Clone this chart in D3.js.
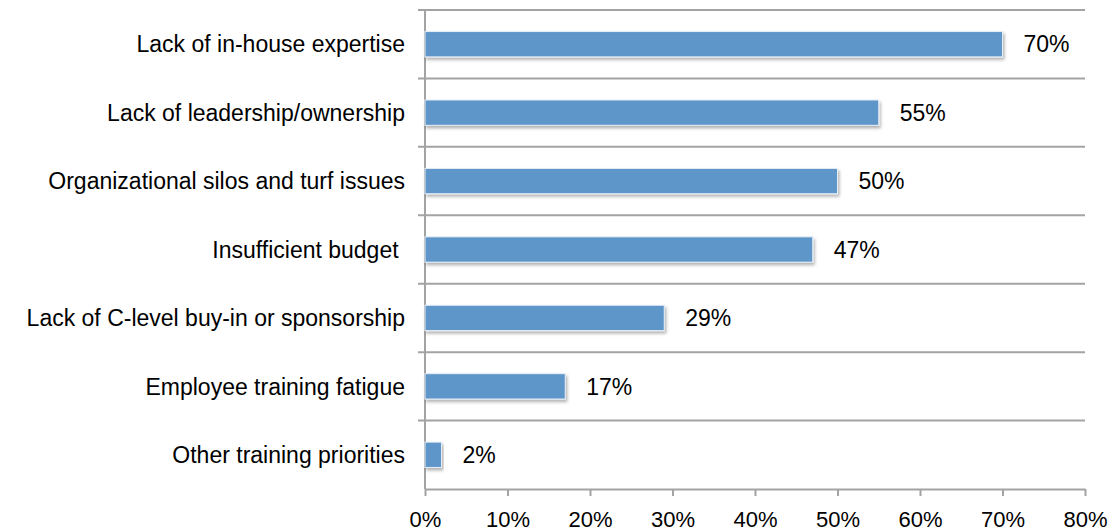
<!DOCTYPE html>
<html>
<head>
<meta charset="utf-8">
<script src="https://cdn.jsdelivr.net/npm/d3@7"></script>
<style>
  body { margin: 0; background: #fff; }
  svg { display: block; font-family: "Liberation Sans", Arial, sans-serif; }
</style>
</head>
<body>
<div id="chart"></div>
<script>
// données
const categories = [
  "Lack of in-house expertise",
  "Lack of leadership/ownership",
  "Organizational silos and turf issues",
  "Insufficient budget ",
  "Lack of C-level buy-in or sponsorship",
  "Employee training fatigue",
  "Other training priorities"
];
const values = [70, 55, 50, 47, 29, 17, 2];
const xTicks = [0, 10, 20, 30, 40, 50, 60, 70, 80];

const W = 1112, H = 531;
const margin = { top: 10, right: 27, bottom: 42, left: 425 };
const width = W - margin.left - margin.right;
const height = H - margin.top - margin.bottom;
const fontSize = 23;

const svg = d3.select("#chart").append("svg")
  .attr("width", W).attr("height", H);

// ombre des barres
const defs = svg.append("defs");
const f = defs.append("filter").attr("id", "shadow")
  .attr("x", "-5%").attr("y", "-20%").attr("width", "115%").attr("height", "160%");
f.append("feDropShadow").attr("dx", 1.5).attr("dy", 2.5).attr("stdDeviation", 1.5)
  .attr("flood-color", "#000").attr("flood-opacity", 0.3);

const g = svg.append("g").attr("transform", `translate(${margin.left},${margin.top})`);

const x = d3.scaleLinear().domain([0, 80]).range([0, width]);
const y = d3.scaleBand().domain(categories).range([0, height]).paddingInner(0).paddingOuter(0);

const gridColor = "#a3a3a3";

// lignes horizontales entre catégories
const bounds = d3.range(categories.length).map(i => y(categories[i]));
g.selectAll(".grid").data(bounds).enter().append("line")
  .attr("x1", -7).attr("x2", width)
  .attr("y1", d => d).attr("y2", d => d)
  .attr("stroke", gridColor).attr("stroke-width", 2);

// axe Y
g.append("line").attr("x1", 0).attr("x2", 0).attr("y1", 0).attr("y2", height)
  .attr("stroke", gridColor).attr("stroke-width", 2);

// axe X
const xAxis = g.append("g").attr("transform", `translate(0,${height})`)
  .call(d3.axisBottom(x).tickValues(xTicks).tickFormat(d => d + "%").tickSize(7).tickSizeOuter(0));
xAxis.select(".domain").attr("stroke", gridColor).attr("stroke-width", 2);
xAxis.selectAll(".tick line").attr("stroke", gridColor).attr("stroke-width", 2);
xAxis.selectAll(".tick text").attr("fill", "#000").attr("font-size", 22)
  .attr("font-family", "Liberation Sans, Arial, sans-serif")
  .attr("y", 37.5).attr("dy", 0);

// barres
const barH = y.bandwidth() * 0.37;
g.selectAll(".bar").data(values).enter().append("rect")
  .attr("x", 0)
  .attr("y", (d, i) => y(categories[i]) + (y.bandwidth() - barH) / 2)
  .attr("width", d => x(d))
  .attr("height", barH)
  .attr("fill", "#5f96c9")
  .attr("stroke", "#e6eef7").attr("stroke-width", 1)
  .attr("filter", "url(#shadow)");

// étiquettes des valeurs
g.selectAll(".val").data(values).enter().append("text")
  .attr("x", d => x(d) + 21)
  .attr("y", (d, i) => y(categories[i]) + y.bandwidth() / 2)
  .attr("dy", "0.36em")
  .attr("font-size", fontSize).attr("fill", "#000")
  .text(d => d + "%");

// catégories
g.selectAll(".cat").data(categories).enter().append("text")
  .attr("x", -20)
  .attr("y", d => y(d) + y.bandwidth() / 2)
  .attr("dy", "0.36em")
  .attr("text-anchor", "end")
  .attr("font-size", fontSize).attr("fill", "#000")
  .style("white-space", "pre")
  .text(d => d);
</script>
</body>
</html>
